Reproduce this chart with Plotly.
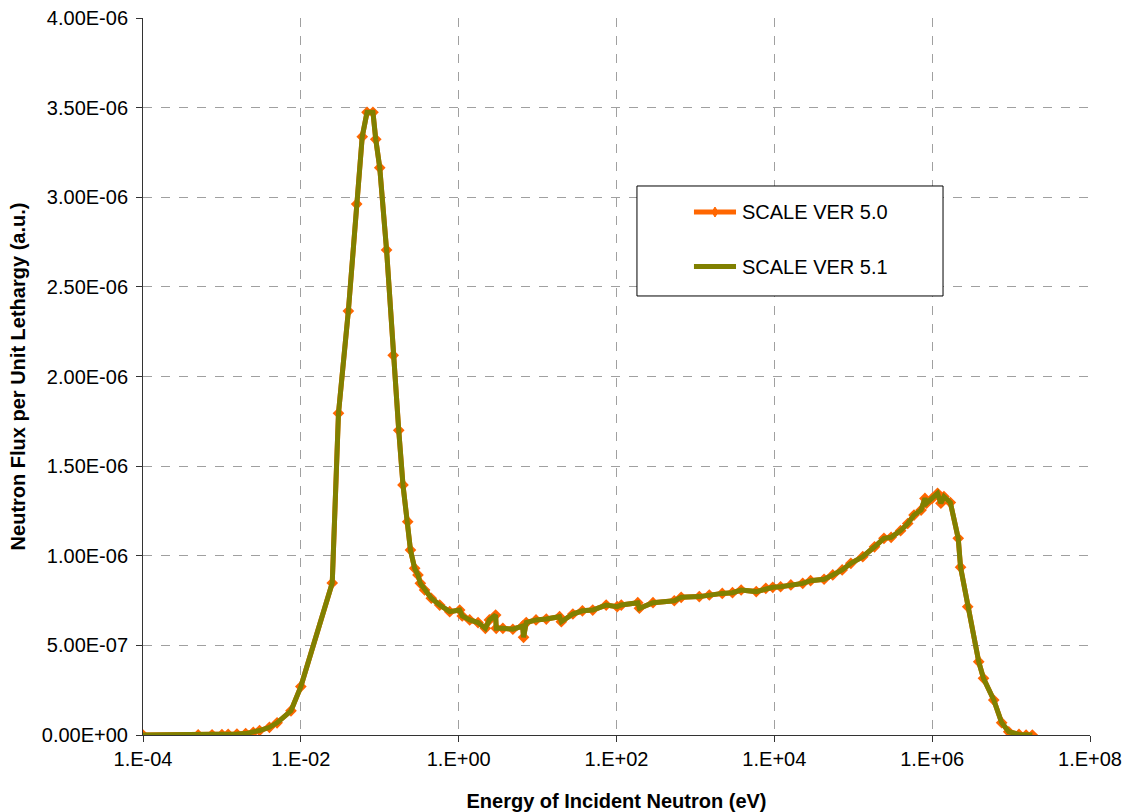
import plotly.graph_objects as go

# Neutron energy grid (eV)
energy_ev = [
    1e-4, 5e-4, 7.5e-4, 1e-3, 1.2e-3, 1.55e-3, 2e-3, 2.5e-3, 3e-3, 4e-3, 5e-3, 7.5e-3,
    1e-2, 2.5e-2, 3e-2, 4e-2, 5.1e-2, 6e-2, 6.9e-2, 8.2e-2, 8.9e-2, 1e-1,
    1.22e-1, 1.48e-1, 1.74e-1, 1.97e-1, 2.26e-1, 2.45e-1, 2.77e-1, 3.05e-1, 3.27e-1,
    3.7e-1, 4.5e-1, 5.75e-1, 7.7e-1, 1.03, 1.11, 1.38, 1.76, 2.18, 2.45, 2.94, 2.99,
    3.63, 4.86, 6.46, 6.64, 7.18, 9.55, 12.9, 19.0, 20.0, 28.0, 37.0, 50.0, 74.0,
    102.0, 115.0, 186.0, 195.0, 290.0, 540.0, 660.0, 1120.0, 1500.0, 2190.0, 2950.0,
    3800.0, 5900.0, 7800.0, 9550.0, 12000.0, 16200.0, 22900.0, 28800.0, 42700.0,
    55000.0, 72400.0, 93300.0, 1.32e5, 1.86e5, 2.45e5, 3.02e5, 3.98e5, 4.9e5,
    5.89e5, 7.24e5, 8.1e5, 8.5e5, 1.0e6, 1.17e6, 1.29e6, 1.41e6, 1.7e6, 2.14e6,
    2.29e6, 2.82e6, 3.89e6, 4.47e6, 6.03e6, 7.59e6, 9.33e6, 1.26e7, 1.55e7, 1.86e7,
]

# Flux per unit lethargy, SCALE version 5.0 (a.u.)
flux_v50 = [
    0.0, 0.0005e-6, 0.001e-6, 0.002e-6, 0.003e-6, 0.005e-6, 0.008e-6, 0.015e-6, 0.025e-6,
    0.043e-6, 0.068e-6, 0.135e-6,
    0.27e-6, 0.848e-6, 1.795e-6, 2.365e-6, 2.962e-6, 3.338e-6, 3.474e-6, 3.474e-6,
    3.323e-6, 3.165e-6,
    2.706e-6, 2.118e-6, 1.70e-6, 1.395e-6, 1.19e-6, 1.032e-6, 0.93e-6, 0.893e-6, 0.846e-6,
    0.809e-6, 0.763e-6, 0.725e-6, 0.688e-6, 0.697e-6, 0.664e-6, 0.642e-6, 0.627e-6,
    0.595e-6, 0.642e-6, 0.669e-6, 0.595e-6,
    0.595e-6, 0.59e-6, 0.608e-6, 0.545e-6, 0.627e-6, 0.642e-6, 0.647e-6, 0.66e-6,
    0.632e-6, 0.675e-6, 0.693e-6, 0.697e-6, 0.725e-6,
    0.716e-6, 0.725e-6, 0.738e-6, 0.707e-6, 0.738e-6, 0.749e-6, 0.768e-6, 0.772e-6,
    0.781e-6, 0.79e-6, 0.794e-6,
    0.809e-6, 0.80e-6, 0.818e-6, 0.824e-6, 0.827e-6, 0.837e-6, 0.846e-6, 0.861e-6,
    0.869e-6,
    0.893e-6, 0.921e-6, 0.958e-6, 0.995e-6, 1.05e-6, 1.097e-6, 1.103e-6, 1.14e-6,
    1.18e-6,
    1.227e-6, 1.255e-6, 1.32e-6, 1.293e-6, 1.32e-6, 1.348e-6, 1.293e-6, 1.33e-6,
    1.297e-6, 1.097e-6,
    0.936e-6, 0.716e-6, 0.409e-6, 0.316e-6, 0.195e-6, 0.069e-6, 0.018e-6, 0.003e-6,
    0.0, 0.0,
]

# Flux per unit lethargy, SCALE version 5.1 (a.u.)
flux_v51 = [
    0.0, 0.0005e-6, 0.001e-6, 0.002e-6, 0.003e-6, 0.005e-6, 0.008e-6, 0.015e-6, 0.025e-6,
    0.043e-6, 0.068e-6, 0.135e-6,
    0.27e-6, 0.848e-6, 1.795e-6, 2.365e-6, 2.962e-6, 3.338e-6, 3.474e-6, 3.474e-6,
    3.323e-6, 3.165e-6,
    2.706e-6, 2.118e-6, 1.70e-6, 1.395e-6, 1.19e-6, 1.032e-6, 0.93e-6, 0.893e-6, 0.846e-6,
    0.809e-6, 0.763e-6, 0.725e-6, 0.688e-6, 0.697e-6, 0.664e-6, 0.642e-6, 0.627e-6,
    0.595e-6, 0.642e-6, 0.669e-6, 0.595e-6,
    0.595e-6, 0.59e-6, 0.608e-6, 0.545e-6, 0.627e-6, 0.642e-6, 0.647e-6, 0.66e-6,
    0.632e-6, 0.675e-6, 0.693e-6, 0.697e-6, 0.725e-6,
    0.716e-6, 0.725e-6, 0.738e-6, 0.707e-6, 0.738e-6, 0.749e-6, 0.768e-6, 0.772e-6,
    0.781e-6, 0.79e-6, 0.794e-6,
    0.809e-6, 0.80e-6, 0.818e-6, 0.824e-6, 0.827e-6, 0.837e-6, 0.846e-6, 0.861e-6,
    0.869e-6,
    0.893e-6, 0.921e-6, 0.958e-6, 0.995e-6, 1.05e-6, 1.097e-6, 1.103e-6, 1.14e-6,
    1.18e-6,
    1.227e-6, 1.255e-6, 1.32e-6, 1.293e-6, 1.32e-6, 1.348e-6, 1.293e-6, 1.33e-6,
    1.297e-6, 1.097e-6,
    0.936e-6, 0.716e-6, 0.409e-6, 0.316e-6, 0.195e-6, 0.069e-6, 0.018e-6, 0.003e-6,
    0.0, 0.0,
]

series_names = ["SCALE VER 5.0", "SCALE VER 5.1"]

x_tick_vals = [1e-4, 1e-2, 1e0, 1e2, 1e4, 1e6, 1e8]
x_tick_text = ["1.E-04", "1.E-02", "1.E+00", "1.E+02", "1.E+04", "1.E+06", "1.E+08"]
y_tick_vals = [0.0, 0.5e-6, 1.0e-6, 1.5e-6, 2.0e-6, 2.5e-6, 3.0e-6, 3.5e-6, 4.0e-6]
y_tick_text = ["0.00E+00", "5.00E-07", "1.00E-06", "1.50E-06", "2.00E-06",
               "2.50E-06", "3.00E-06", "3.50E-06", "4.00E-06"]

ORANGE = "#FF6600"
OLIVE = "#808000"
FONT = "Arial, Liberation Sans, sans-serif"

fig = go.Figure()
fig.add_trace(go.Scatter(
    x=energy_ev, y=flux_v50, name=series_names[0], mode="lines+markers",
    line=dict(color=ORANGE, width=5),
    marker=dict(symbol="diamond", size=9, color=ORANGE),
    showlegend=False,
))
fig.add_trace(go.Scatter(
    x=energy_ev, y=flux_v51, name=series_names[1], mode="lines",
    line=dict(color=OLIVE, width=5),
    showlegend=False,
))

axis_common = dict(
    showline=True, linecolor="#333333", linewidth=1,
    ticks="outside", ticklen=6, tickcolor="#333333",
    showgrid=True, gridcolor="#A0A0A0", gridwidth=1, griddash="dash",
    zeroline=False,
    tickfont=dict(family=FONT, size=20, color="#000000"),
)

fig.update_xaxes(
    type="log", range=[-4, 8],
    tickmode="array", tickvals=x_tick_vals, ticktext=x_tick_text,
    title=dict(text="<b>Energy of Incident Neutron (eV)</b>",
               font=dict(family=FONT, size=20, color="#000000"), standoff=25),
    **axis_common,
)
fig.update_yaxes(
    range=[0, 4e-6],
    tickmode="array", tickvals=y_tick_vals, ticktext=y_tick_text,
    ticklabelstandoff=4,
    title=dict(text="<b>Neutron Flux per Unit Lethargy (a.u.)</b>",
               font=dict(family=FONT, size=20, color="#000000"), standoff=10),
    **axis_common,
)

# Hand-placed legend box inside the plot area
lg_left, lg_right, lg_bottom, lg_top = 0.5216, 0.8448, 0.6123, 0.7657
row_y = [0.7294, 0.6534]
sample_x0, sample_x1 = 0.5818, 0.6262
text_x = 0.6304

shapes = [dict(type="rect", xref="paper", yref="paper",
               x0=lg_left, x1=lg_right, y0=lg_bottom, y1=lg_top,
               line=dict(color="#000000", width=1), fillcolor="#FFFFFF", layer="above")]
annotations = []
for name, color, yy in zip(series_names, [ORANGE, OLIVE], row_y):
    shapes.append(dict(type="line", xref="paper", yref="paper",
                       x0=sample_x0, x1=sample_x1, y0=yy, y1=yy,
                       line=dict(color=color, width=5), layer="above"))
    annotations.append(dict(xref="paper", yref="paper", x=text_x, y=yy,
                            xanchor="left", yanchor="middle", showarrow=False,
                            text=name, font=dict(family=FONT, size=20, color="#000000")))
# marker glyph on the SCALE 5.0 sample line
shapes.append(dict(type="path", xref="paper", yref="paper",
                   xsizemode="pixel", ysizemode="pixel",
                   xanchor=(sample_x0 + sample_x1) / 2, yanchor=row_y[0],
                   path="M 0 5 L 3 0 L 0 -5 L -3 0 Z",
                   fillcolor=ORANGE, line=dict(color=ORANGE, width=1), layer="above"))

fig.update_layout(
    width=1128, height=812,
    margin=dict(l=143, r=38, t=18, b=77, autoexpand=False),
    paper_bgcolor="#FFFFFF", plot_bgcolor="#FFFFFF",
    font=dict(family=FONT, color="#000000"),
    shapes=shapes, annotations=annotations,
    showlegend=False,
)

fig.write_html("out.html")
